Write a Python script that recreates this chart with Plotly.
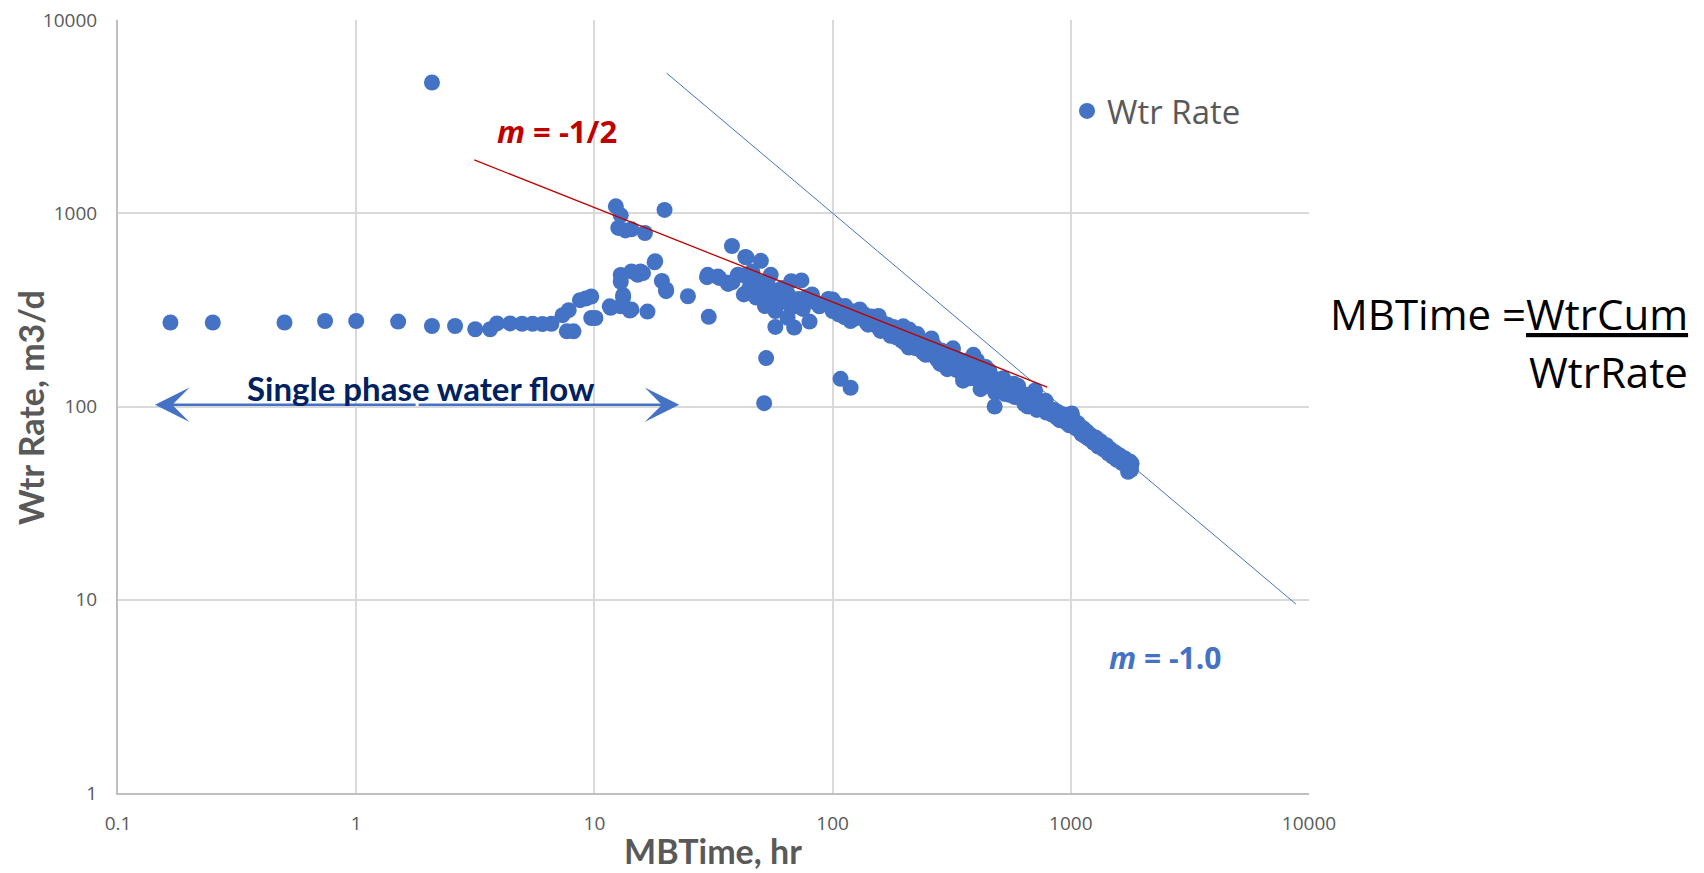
import plotly.graph_objects as go
import math

# ---- data ----
mb_time = [
    0.166, 0.25, 0.5, 0.74, 1.0, 1.5, 2.08, 2.08, 2.6, 3.16, 3.65, 3.9, 4.43, 4.97, 5.5, 6.05, 6.6,
    7.35, 7.8, 7.66, 8.17, 8.7, 9.2, 9.7, 9.7, 10.1, 11.6, 12.9, 13.2, 14.3, 16.7, 12.9, 14.3, 15.6,
    12.9, 14.1, 13.2, 11.7, 18.0, 17.9, 19.2, 20.0, 20.0, 12.3, 12.9, 12.6, 14.3, 16.3, 13.5, 19.7,
    15.2, 16.0, 24.7, 30.2, 29.9, 33.0, 36.3, 37.8, 43.0, 50.0, 43.5, 43.0, 52.6, 51.6, 57.5,
    29.7, 33.4, 36.4, 42.4, 42.4, 47.0, 47.8, 52.0, 57.5, 66.0, 67.0, 74.0, 64.7, 69.0, 80.0, 82.0,
    83.6, 61.6, 53.8, 45.0, 48.0, 50.0, 55.0, 58.0, 62.0, 70.0, 75.0, 88.0, 92.0, 96.0, 44.0, 46.0,
    40.0, 38.0, 55.0, 60.0, 65.0, 72.0, 78.0, 85.0,
    98, 100, 100, 102, 104, 106, 108, 110, 113, 116, 119, 119, 122, 126, 130, 134, 139, 143, 148,
    152, 156, 159, 163, 168, 172, 177, 182, 186, 190, 195, 198, 200, 205, 209, 210, 214, 220, 227,
    232, 238, 240, 244, 250, 256, 260, 260, 266, 272, 278, 283, 290, 296, 300, 303, 310, 319, 320,
    326, 330, 334, 342, 350, 353, 359, 368, 376, 380, 380, 385, 390, 394, 400, 404, 412, 418, 420,
    425, 434, 440, 444, 455, 466, 470, 479, 488, 500, 510, 520, 521, 530, 533, 545, 558, 570, 577,
    590, 600, 600, 612, 625, 639, 650, 660, 665, 680, 700, 708, 720, 720, 740, 760, 784, 790, 800,
    820, 838, 860, 880, 897, 920, 940, 960, 993, 1000, 1010, 1020, 1040, 1063, 1080, 1100, 1120,
    1138, 1160, 1180, 1200, 1230, 1260, 1290, 1320, 1350, 1394, 1420, 1450, 1480, 1545, 1580,
    1620, 1660, 1709, 1740, 1800, 1760,
    105, 112, 118, 124, 128, 136, 141, 146, 150, 158, 165, 170, 175, 180, 185, 192, 202, 207, 216,
    224, 230, 236, 246, 252, 258, 268, 275, 286, 292, 298, 306, 315, 323, 338, 346, 356, 364, 372,
    390, 398, 408, 430, 448, 460, 475, 482, 495, 505, 515, 540, 552, 565, 582, 595, 618, 632, 645,
    672, 690, 695, 730, 750, 770, 810, 830, 850, 870, 890, 910, 930, 950, 975, 985, 1030, 1050,
    1070, 1090, 1110, 1130, 1150, 1170, 1190, 1215, 1245, 1275, 1305, 1335, 1370, 1410, 1440,
    1470, 1500, 1530, 1560, 1600, 1640, 1680, 1720, 1770, 1790,
]
wtr_rate = [
    272, 272, 272, 277, 277, 275, 4750, 261, 261, 251, 251, 269, 269, 268, 268, 267, 268,
    297, 315, 245, 245, 355, 362, 371, 287, 287, 330, 330, 377, 318, 310, 479, 500, 500,
    442, 314, 366, 324, 565, 557, 446, 403, 395, 1086, 975, 840, 826, 790, 815, 1040,
    480, 490, 372, 291, 480, 470, 437, 677, 594, 567, 591, 385, 178, 104, 258,
    467, 463, 431, 478, 380, 454, 366, 331, 312, 337, 445, 449, 288, 256, 275, 380,
    351, 411, 420, 420, 400, 440, 380, 360, 350, 330, 320, 330, 340, 360, 470, 500,
    480, 440, 480, 400, 380, 360, 370, 345,
    330, 358, 312, 345, 320, 300, 139, 315, 331, 300, 277, 125, 310, 295, 318, 290, 272, 285, 280,
    262, 294, 246, 270, 260, 252, 246, 246, 240, 232, 219, 260, 230, 225, 202, 250, 218, 210, 237,
    205, 198, 190, 212, 200, 186, 219, 225, 195, 190, 180, 166, 185, 178, 170, 156, 176, 194, 200,
    170, 155, 162, 170, 160, 136, 166, 150, 155, 140, 175, 148, 185, 144, 160, 173, 140, 123, 132,
    142, 138, 160, 135, 153, 132, 125, 100, 130, 128, 126, 140, 136, 116, 124, 122, 120, 118, 131,
    117, 112, 128, 114, 110, 103, 108, 100, 106, 105, 102, 121, 100, 96, 101, 99, 107, 93, 97,
    94, 95.5, 92, 90, 85, 89, 86, 85, 88, 83, 92, 82, 80, 81.5, 78, 76, 75,
    72.4, 72, 71, 69, 68, 67, 65, 64, 63, 61.8, 60, 59, 58, 57, 55,
    54, 53, 52.7, 45.9, 50.7, 48,
    335, 290, 305, 285, 300, 300, 265, 292, 270, 268, 250, 265, 232, 258, 228, 245, 212, 240, 228,
    200, 222, 215, 185, 210, 200, 205, 175, 195, 170, 188, 165, 182, 160, 175, 150, 172, 158, 145,
    165, 150, 155, 150, 142, 128, 140, 118, 135, 120, 132, 128, 115, 125, 112, 122, 118, 108, 115,
    110, 100, 108, 104, 97, 102, 98, 91, 96, 88, 93, 86, 91, 83, 87, 80, 85, 77,
    82, 79, 72, 77, 70, 74, 68, 71, 65, 69, 62, 66, 60, 63, 57,
    60, 55, 58, 53, 56, 51, 54, 50, 52, 47,
]

# straight guide lines (end points)
slope_half_x = [3.13, 796]
slope_half_y = [1888, 126]
slope_one_x = [20.1, 8810]
slope_one_y = [5310, 9.5]

x_ticks = [0.1, 1, 10, 100, 1000, 10000]
x_ticktext = ["0.1", "1", "10", "100", "1000", "10000"]
y_ticks = [1, 10, 100, 1000, 10000]
y_ticktext = ["1", "10", "100", "1000", "10000"]

# single-phase arrow extent
arrow_x = [0.143, 22.7]
arrow_y = 102

BLUE = "#4472C4"
RED = "#C00000"
GRAY = "#595959"
GRID = "#D9D9D9"

fig = go.Figure()
fig.add_trace(go.Scatter(
    x=slope_one_x, y=slope_one_y, mode="lines",
    line=dict(color=BLUE, width=1), showlegend=False, hoverinfo="skip"))
fig.add_trace(go.Scatter(
    x=mb_time, y=wtr_rate, mode="markers", name="Wtr Rate",
    marker=dict(color=BLUE, size=16, line=dict(width=0))))
fig.add_trace(go.Scatter(
    x=slope_half_x, y=slope_half_y, mode="lines",
    line=dict(color=RED, width=1.3), showlegend=False, hoverinfo="skip"))

lx0, lx1 = math.log10(arrow_x[0]), math.log10(arrow_x[1])
ly = math.log10(arrow_y)
mid = (lx0 + lx1) / 2
annotations = []
for end in (lx0, lx1):
    annotations.append(dict(
        x=end, y=ly, ax=mid, ay=ly, xref="x", yref="y", axref="x", ayref="y",
        text="", showarrow=True, arrowhead=3, arrowwidth=2.5, arrowsize=2.3,
        arrowcolor=BLUE))
annotations += [
    dict(x=math.log10(1.87), y=ly, xref="x", yref="y", xanchor="center", yanchor="bottom",
         yshift=-5, text="<b>Single phase water flow</b>", showarrow=False,
         font=dict(family="Lato", size=33, color="#002060")),
    dict(x=557, y=131, xref="paper", yref="paper", xanchor="center", yanchor="middle",
         text="<b><i>m</i> = -1/2</b>",
         showarrow=False, font=dict(family="Open Sans", size=31, color=RED)),
    dict(x=1165, y=657, xref="paper", yref="paper", xanchor="center", yanchor="middle",
         text="<b><i>m</i> = -1.0</b>",
         showarrow=False, font=dict(family="Open Sans", size=30, color=BLUE)),
    dict(x=1690, y=314, xref="paper", yref="paper", xanchor="right", yanchor="middle",
         text="MBTime =<u>WtrCum</u>", showarrow=False,
         font=dict(family="Open Sans", size=42, color="black")),
    dict(x=1690, y=371, xref="paper", yref="paper", xanchor="right", yanchor="middle",
         text="WtrRate", showarrow=False,
         font=dict(family="Open Sans", size=42, color="black")),
    dict(x=713, y=850, xref="paper", yref="paper", xanchor="center", yanchor="middle",
         text="<b>MBTime, hr</b>", showarrow=False,
         font=dict(family="Lato", size=34, color=GRAY)),
    dict(x=30, y=408, xref="paper", yref="paper", xanchor="center", yanchor="middle",
         text="<b>Wtr Rate, m3/d</b>", textangle=-90, showarrow=False,
         font=dict(family="Lato", size=34, color=GRAY)),
]

# convert pixel-placed paper annotations to paper fractions
L, R, T, B = 118, 395, 20, 80
W, H = 1704, 873
PW, PH = W - L - R, H - T - B
for a in annotations:
    if a.get("xref") == "paper":
        a["x"] = (a["x"] - L) / PW
        a["y"] = 1 - (a["y"] - T) / PH

fig.update_layout(
    width=W, height=H,
    margin=dict(l=L, r=R, t=T, b=B),
    paper_bgcolor="white", plot_bgcolor="white",
    annotations=annotations,
    showlegend=True,
    legend=dict(x=(1067 - L) / PW, y=1 - (111 - T) / PH, xanchor="left", yanchor="middle",
                font=dict(family="Open Sans", size=33, color=GRAY),
                bgcolor="rgba(0,0,0,0)"),
    xaxis=dict(type="log", range=[-1, 4], tickvals=x_ticks, ticktext=x_ticktext,
               showgrid=True, gridcolor=GRID, gridwidth=1.5, zeroline=False,
               showline=True, linecolor="#BFBFBF", linewidth=2, automargin=False,
               ticks="", ticklabelstandoff=12,
               tickfont=dict(family="Open Sans", size=19, color=GRAY)),
    yaxis=dict(type="log", range=[0, 4], tickvals=y_ticks, ticktext=y_ticktext,
               showgrid=True, gridcolor=GRID, gridwidth=1.5, zeroline=False,
               showline=True, linecolor="#BFBFBF", linewidth=2, automargin=False,
               ticks="", ticklabelstandoff=15,
               tickfont=dict(family="Open Sans", size=19, color=GRAY)),
)

fig.write_html("out.html")
